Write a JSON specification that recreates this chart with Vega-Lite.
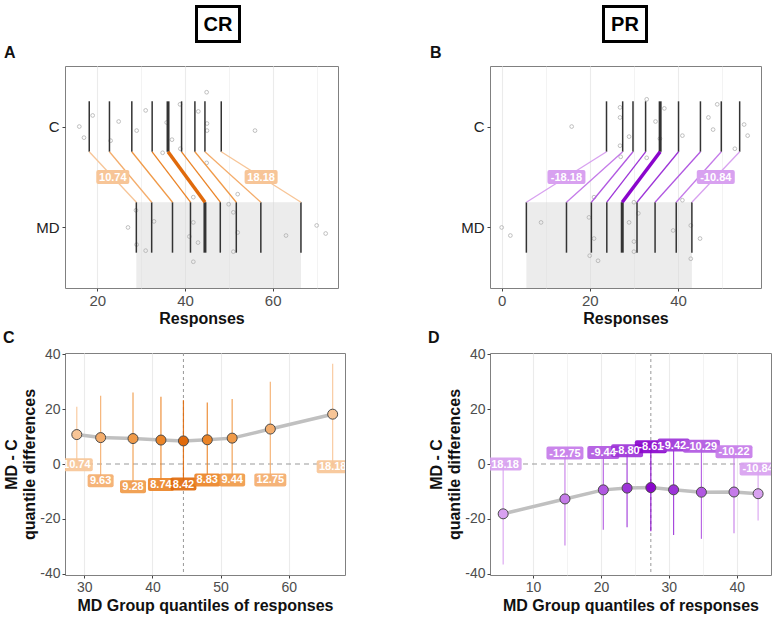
{
"$schema":"https://vega.github.io/schema/vega-lite/v6.json",
"background":"white",
"padding":{"left":2,"top":0,"right":0,"bottom":0},
"spacing":-4,
"config":{
 "font":"Liberation Sans",
 "view":{"stroke":"#808080","strokeWidth":1},
 "axis":{"domain":false,"labelOverlap":false,"gridColor":"#ebebeb","tickColor":"#444444","tickSize":3,"labelColor":"#4d4d4d","labelFontSize":14,"titleFontSize":16,"titleFontWeight":"bold","titleColor":"#111111","labelPadding":2,"titleFont":"Liberation Sans","labelFont":"Liberation Sans"},
 "title":{"fontSize":16,"fontWeight":"bold","color":"#111111","font":"Liberation Sans"}
},
"datasets":{
 "crq":[
  {"q":1,"MD":28.9,"C":18.16,"diff":10.74,"label":"10.74","lo":0.5,"hi":20.9,"ly":-0.3},
  {"q":2,"MD":32.4,"C":22.77,"diff":9.63,"label":"9.63","lo":-5,"hi":24.9,"ly":-6.1},
  {"q":3,"MD":37.15,"C":27.87,"diff":9.28,"label":"9.28","lo":-7,"hi":26.1,"ly":-8.3},
  {"q":4,"MD":41.25,"C":32.51,"diff":8.74,"label":"8.74","lo":-6,"hi":24.5,"ly":-7.5},
  {"q":5,"MD":44.55,"C":36.13,"diff":8.42,"label":"8.42","lo":-6,"hi":23.3,"ly":-7.3},
  {"q":6,"MD":48.05,"C":39.22,"diff":8.83,"label":"8.83","lo":-5,"hi":22.4,"ly":-5.8},
  {"q":7,"MD":51.7,"C":42.26,"diff":9.44,"label":"9.44","lo":-5,"hi":23.7,"ly":-5.8},
  {"q":8,"MD":57.3,"C":44.55,"diff":12.75,"label":"12.75","lo":-5,"hi":30.0,"ly":-5.8},
  {"q":9,"MD":66.45,"C":48.27,"diff":18.18,"label":"18.18","lo":-1,"hi":36.6,"ly":-1.0}
 ],
 "prq":[
  {"q":1,"MD":5.6,"C":23.78,"diff":-18.18,"label":"-18.18","lo":-36.7,"hi":0.5,"ly":0},
  {"q":2,"MD":14.7,"C":27.45,"diff":-12.75,"label":"-12.75","lo":-29.7,"hi":3,"ly":4.0},
  {"q":3,"MD":20.35,"C":29.79,"diff":-9.44,"label":"-9.44","lo":-24.0,"hi":3,"ly":4.2},
  {"q":4,"MD":23.85,"C":32.65,"diff":-8.8,"label":"-8.80","lo":-23.1,"hi":3.5,"ly":4.8},
  {"q":5,"MD":27.35,"C":35.95,"diff":-8.61,"label":"-8.61","lo":-24.5,"hi":5,"ly":6.3},
  {"q":6,"MD":30.7,"C":40.12,"diff":-9.42,"label":"-9.42","lo":-25.9,"hi":5,"ly":6.9},
  {"q":7,"MD":34.8,"C":45.09,"diff":-10.29,"label":"-10.29","lo":-27.3,"hi":5,"ly":6.5},
  {"q":8,"MD":39.6,"C":49.82,"diff":-10.22,"label":"-10.22","lo":-25.3,"hi":3,"ly":4.5},
  {"q":9,"MD":43.15,"C":53.99,"diff":-10.84,"label":"-10.84","lo":-20.6,"hi":-2,"ly":-1.8}
 ],
 "crraw":[
  {"grp":"C","x":15.89,"y":2.0},{"grp":"C","x":16.96,"y":1.89},{"grp":"C","x":18.94,"y":2.11},{"grp":"C","x":23.04,"y":1.86},{"grp":"C","x":24.87,"y":2.05},{"grp":"C","x":28.97,"y":1.96},{"grp":"C","x":31.03,"y":2.16},{"grp":"C","x":34.9,"y":1.74},{"grp":"C","x":35.82,"y":2.04},{"grp":"C","x":37.03,"y":1.87},{"grp":"C","x":38.86,"y":2.22},{"grp":"C","x":38.94,"y":1.78},{"grp":"C","x":43.04,"y":2.15},{"grp":"C","x":44.94,"y":2.34},{"grp":"C","x":45.02,"y":2.03},{"grp":"C","x":45.02,"y":1.96},{"grp":"C","x":44.94,"y":1.64},{"grp":"C","x":55.97,"y":1.96},
  {"grp":"MD","x":28.82,"y":1.17},{"grp":"MD","x":28.97,"y":0.83},{"grp":"MD","x":27.0,"y":1.0},{"grp":"MD","x":31.03,"y":0.77},{"grp":"MD","x":32.93,"y":1.06},{"grp":"MD","x":41.9,"y":1.3},{"grp":"MD","x":41.9,"y":1.05},{"grp":"MD","x":40.99,"y":0.91},{"grp":"MD","x":42.97,"y":0.85},{"grp":"MD","x":41.9,"y":0.66},{"grp":"MD","x":49.96,"y":1.23},{"grp":"MD","x":51.03,"y":1.15},{"grp":"MD","x":52.02,"y":1.33},{"grp":"MD","x":52.02,"y":0.95},{"grp":"MD","x":51.03,"y":0.76},{"grp":"MD","x":63.04,"y":0.92},{"grp":"MD","x":70.04,"y":1.02},{"grp":"MD","x":72.09,"y":0.94}
 ],
 "prraw":[
  {"grp":"C","x":15.88,"y":2.0},{"grp":"C","x":26.85,"y":2.19},{"grp":"C","x":26.85,"y":2.09},{"grp":"C","x":28.9,"y":1.9},{"grp":"C","x":26.85,"y":1.81},{"grp":"C","x":27.0,"y":1.7},{"grp":"C","x":32.9,"y":2.27},{"grp":"C","x":36.9,"y":2.18},{"grp":"C","x":34.9,"y":2.05},{"grp":"C","x":35.9,"y":1.88},{"grp":"C","x":32.9,"y":1.69},{"grp":"C","x":41.0,"y":1.91},{"grp":"C","x":46.9,"y":2.09},{"grp":"C","x":47.96,"y":1.97},{"grp":"C","x":48.9,"y":2.22},{"grp":"C","x":52.9,"y":1.78},{"grp":"C","x":55.0,"y":2.02},{"grp":"C","x":55.8,"y":1.91},
  {"grp":"MD","x":0.0,"y":1.0},{"grp":"MD","x":1.97,"y":0.92},{"grp":"MD","x":8.93,"y":1.05},{"grp":"MD","x":19.8,"y":1.1},{"grp":"MD","x":20.95,"y":0.89},{"grp":"MD","x":19.97,"y":0.72},{"grp":"MD","x":21.86,"y":0.67},{"grp":"MD","x":20.95,"y":1.3},{"grp":"MD","x":28.9,"y":1.05},{"grp":"MD","x":30.0,"y":1.25},{"grp":"MD","x":31.0,"y":1.14},{"grp":"MD","x":30.0,"y":0.86},{"grp":"MD","x":30.0,"y":0.76},{"grp":"MD","x":38.9,"y":0.97},{"grp":"MD","x":41.0,"y":1.27},{"grp":"MD","x":42.9,"y":1.02},{"grp":"MD","x":42.9,"y":0.69},{"grp":"MD","x":45.0,"y":0.89}
 ]
},
"vconcat":[
 {
  "width":600,"height":44,"view":{"stroke":null},
  "data":{"values":[{"grp":"CR"},{"grp":"PR"}]},
  "encoding":{"x":{"field":"grp","type":"nominal","scale":{"domain":["CR","PR"],"range":[153,560],"padding":0},"axis":null}},
  "layer":[
   {"mark":{"type":"point","shape":"M-21.5,-17.5H21.5V17.5H-21.5Z","size":4,"filled":false,"stroke":"black","strokeWidth":3,"opacity":1}},
   {"mark":{"type":"text","fontSize":20,"fontWeight":"bold","font":"Liberation Sans Narrow, Liberation Sans","baseline":"middle","dy":1,"color":"black"},"encoding":{"text":{"field":"grp"}}}
  ]
 },
 {
  "columns":2,
  "spacing":{"row":2,"column":81},
  "resolve":{"scale":{"color":"independent","fill":"independent","shape":"independent"}},
  "concat":[
   {
    "width":273,"height":222,
    "title":{"text":"A","anchor":"start","frame":"group","dx":-61,"offset":-8,"baseline":"alphabetic"},
    "layer":[
     {"data":{"name":"crq"},
      "transform":[{"aggregate":[{"op":"min","field":"MD","as":"lo"},{"op":"max","field":"MD","as":"hi"}]}],
      "mark":{"type":"rect","color":"#d9d9d9","opacity":0.5},
      "encoding":{
       "x":{"field":"lo","type":"quantitative","scale":{"domain":[12.63,74.9],"nice":false,"zero":false},
            "axis":{"title":"Responses","values":[20,30,40,50,60,70],"labelExpr":"datum.value % 20 === 0 ? datum.label : ''","tickOpacity":{"condition":{"test":"datum.value % 20 === 0","value":1},"value":0},"gridWidth":{"condition":{"test":"datum.value % 20 === 0","value":1.1},"value":0.6},"labelFontSize":15,"titlePadding":2}},
       "x2":{"field":"hi"},
       "y":{"datum":1.25,"type":"quantitative","scale":{"domain":[0.4,2.6],"nice":false,"zero":false},
            "axis":{"title":null,"values":[1,2],"labelExpr":"datum.value === 2 ? 'C' : 'MD'","labelFontSize":15,"labelColor":"#222222","gridWidth":1.1,"labelPadding":3}},
       "y2":{"datum":0.4}}},
     {"data":{"name":"crraw"},"mark":{"type":"point","filled":false,"size":14,"strokeWidth":0.8,"color":"#b0b0b0","opacity":1},
      "encoding":{"x":{"field":"x","type":"quantitative"},"y":{"field":"y","type":"quantitative"}}},
     {"data":{"name":"crq"},"mark":{"type":"rule","color":"#333333"},
      "encoding":{"x":{"field":"C","type":"quantitative"},"y":{"datum":1.75},"y2":{"datum":2.25},"strokeWidth":{"condition":{"test":"datum.q === 5","value":3},"value":1.5}}},
     {"data":{"name":"crq"},"mark":{"type":"rule","color":"#333333"},
      "encoding":{"x":{"field":"MD","type":"quantitative"},"y":{"datum":0.75},"y2":{"datum":1.25},"strokeWidth":{"condition":{"test":"datum.q === 5","value":3},"value":1.5}}},
     {"data":{"name":"crq"},"mark":{"type":"rule"},
      "encoding":{"x":{"field":"C","type":"quantitative"},"x2":{"field":"MD"},"y":{"datum":1.75},"y2":{"datum":1.25},
       "color":{"field":"q","type":"ordinal","scale":{"domain":[1,2,3,4,5,6,7,8,9],"range":["#f7c597","#f4ad6c","#f09a48","#eb8427","#e06a0c","#eb8427","#f09a48","#f4ad6c","#f7c597"]},"legend":null},
       "strokeWidth":{"condition":{"test":"datum.q === 5","value":3.5},"value":1.3}}},
     {"data":{"name":"crq"},
      "transform":[{"filter":"datum.q === 1 || datum.q === 9"},{"calculate":"(datum.C + datum.MD) / 2","as":"mid"},{"calculate":"length(datum.label)","as":"len"}],
      "mark":{"type":"point","filled":true,"size":4,"opacity":1,"strokeWidth":0},
      "encoding":{"x":{"field":"mid","type":"quantitative"},"y":{"datum":1.5},
       "fill":{"field":"q","type":"ordinal","scale":{"domain":[1,2,3,4,5,6,7,8,9],"range":["#f7c597","#f4ad6c","#f09a48","#eb8427","#e06a0c","#eb8427","#f09a48","#f4ad6c","#f7c597"]},"legend":null},
       "shape":{"field":"len","type":"nominal","scale":{"domain":[4,5,6],"range":["M-11,-7H11Q13,-7 13,-5V5Q13,7 11,7H-11Q-13,7 -13,5V-5Q-13,-7 -11,-7Z","M-14.5,-7H14.5Q16.5,-7 16.5,-5V5Q16.5,7 14.5,7H-14.5Q-16.5,7 -16.5,5V-5Q-16.5,-7 -14.5,-7Z","M-17,-7H17Q19,-7 19,-5V5Q19,7 17,7H-17Q-19,7 -19,5V-5Q-19,-7 -17,-7Z"]},"legend":null}}},
     {"data":{"name":"crq"},
      "transform":[{"filter":"datum.q === 1 || datum.q === 9"},{"calculate":"(datum.C + datum.MD) / 2","as":"mid"}],
      "mark":{"type":"text","color":"white","fontSize":11,"fontWeight":"bold","baseline":"middle","dy":0.5},
      "encoding":{"x":{"field":"mid","type":"quantitative"},"y":{"datum":1.5},"text":{"field":"label"}}}
    ]
   },
   {
    "width":271,"height":222,
    "title":{"text":"B","anchor":"start","frame":"group","dx":-60,"offset":-8,"baseline":"alphabetic"},
    "layer":[
     {"data":{"name":"prq"},
      "transform":[{"aggregate":[{"op":"min","field":"MD","as":"lo"},{"op":"max","field":"MD","as":"hi"}]}],
      "mark":{"type":"rect","color":"#d9d9d9","opacity":0.5},
      "encoding":{
       "x":{"field":"lo","type":"quantitative","scale":{"domain":[-2.65,58.83],"nice":false,"zero":false},
            "axis":{"title":"Responses","values":[0,10,20,30,40,50],"labelExpr":"datum.value % 20 === 0 ? datum.label : ''","tickOpacity":{"condition":{"test":"datum.value % 20 === 0","value":1},"value":0},"gridWidth":{"condition":{"test":"datum.value % 20 === 0","value":1.1},"value":0.6},"labelFontSize":15,"titlePadding":2}},
       "x2":{"field":"hi"},
       "y":{"datum":1.25,"type":"quantitative","scale":{"domain":[0.4,2.6],"nice":false,"zero":false},
            "axis":{"title":null,"values":[1,2],"labelExpr":"datum.value === 2 ? 'C' : 'MD'","labelFontSize":15,"labelColor":"#222222","gridWidth":1.1,"labelPadding":3}},
       "y2":{"datum":0.4}}},
     {"data":{"name":"prraw"},"mark":{"type":"point","filled":false,"size":14,"strokeWidth":0.8,"color":"#b0b0b0","opacity":1},
      "encoding":{"x":{"field":"x","type":"quantitative"},"y":{"field":"y","type":"quantitative"}}},
     {"data":{"name":"prq"},"mark":{"type":"rule","color":"#333333"},
      "encoding":{"x":{"field":"C","type":"quantitative"},"y":{"datum":1.75},"y2":{"datum":2.25},"strokeWidth":{"condition":{"test":"datum.q === 5","value":3},"value":1.5}}},
     {"data":{"name":"prq"},"mark":{"type":"rule","color":"#333333"},
      "encoding":{"x":{"field":"MD","type":"quantitative"},"y":{"datum":0.75},"y2":{"datum":1.25},"strokeWidth":{"condition":{"test":"datum.q === 5","value":3},"value":1.5}}},
     {"data":{"name":"prq"},"mark":{"type":"rule"},
      "encoding":{"x":{"field":"C","type":"quantitative"},"x2":{"field":"MD"},"y":{"datum":1.75},"y2":{"datum":1.25},
       "color":{"field":"q","type":"ordinal","scale":{"domain":[1,2,3,4,5,6,7,8,9],"range":["#d8a1f0","#c57be9","#b158e1","#9d34d8","#8a05cc","#9d34d8","#b158e1","#c57be9","#d8a1f0"]},"legend":null},
       "strokeWidth":{"condition":{"test":"datum.q === 5","value":3.5},"value":1.3}}},
     {"data":{"name":"prq"},
      "transform":[{"filter":"datum.q === 1 || datum.q === 9"},{"calculate":"(datum.C + datum.MD) / 2","as":"mid"},{"calculate":"length(datum.label)","as":"len"}],
      "mark":{"type":"point","filled":true,"size":4,"opacity":1,"strokeWidth":0},
      "encoding":{"x":{"field":"mid","type":"quantitative"},"y":{"datum":1.5},
       "fill":{"field":"q","type":"ordinal","scale":{"domain":[1,2,3,4,5,6,7,8,9],"range":["#d8a1f0","#c57be9","#b158e1","#9d34d8","#8a05cc","#9d34d8","#b158e1","#c57be9","#d8a1f0"]},"legend":null},
       "shape":{"field":"len","type":"nominal","scale":{"domain":[4,5,6],"range":["M-11,-7H11Q13,-7 13,-5V5Q13,7 11,7H-11Q-13,7 -13,5V-5Q-13,-7 -11,-7Z","M-14.5,-7H14.5Q16.5,-7 16.5,-5V5Q16.5,7 14.5,7H-14.5Q-16.5,7 -16.5,5V-5Q-16.5,-7 -14.5,-7Z","M-17,-7H17Q19,-7 19,-5V5Q19,7 17,7H-17Q-19,7 -19,5V-5Q-19,-7 -17,-7Z"]},"legend":null}}},
     {"data":{"name":"prq"},
      "transform":[{"filter":"datum.q === 1 || datum.q === 9"},{"calculate":"(datum.C + datum.MD) / 2","as":"mid"}],
      "mark":{"type":"text","color":"white","fontSize":11,"fontWeight":"bold","baseline":"middle","dy":0.5},
      "encoding":{"x":{"field":"mid","type":"quantitative"},"y":{"datum":1.5},"text":{"field":"label"}}}
    ]
   },
   {
    "width":280,"height":222,
    "title":{"text":"C","anchor":"start","frame":"group","dx":-62,"offset":-12,"baseline":"alphabetic"},
    "layer":[
     {"data":{"name":"crq"},"transform":[{"filter":"datum.q === 5"}],
      "mark":{"type":"rule","color":"#999999","strokeDash":[5,4],"strokeWidth":1},
      "encoding":{"y":{"datum":0,"type":"quantitative","scale":{"domain":[-40.5,40.5],"nice":false,"zero":false},
        "axis":{"title":["MD - C","quantile differences"],"titleLineHeight":18,"titlePadding":2,"values":[-40,-30,-20,-10,0,10,20,30,40],"labelExpr":"datum.value % 20 === 0 ? '' + datum.value : ''","tickOpacity":{"condition":{"test":"datum.value % 20 === 0","value":1},"value":0},"gridWidth":{"condition":{"test":"datum.value % 20 === 0","value":1.1},"value":0.6}}}}},
     {"data":{"name":"crq"},"transform":[{"filter":"datum.q === 5"}],
      "mark":{"type":"rule","color":"#999999","strokeDash":[3,3],"strokeWidth":1},
      "encoding":{"x":{"field":"MD","type":"quantitative","scale":{"domain":[27.17,68.26],"nice":false,"zero":false},
        "axis":{"title":"MD Group quantiles of responses","titlePadding":3,"values":[30,35,40,45,50,55,60,65],"labelExpr":"datum.value % 10 === 0 ? datum.label : ''","tickOpacity":{"condition":{"test":"datum.value % 10 === 0","value":1},"value":0},"gridWidth":{"condition":{"test":"datum.value % 10 === 0","value":1.1},"value":0.6}}}}},
     {"data":{"name":"crq"},"mark":{"type":"rule","strokeWidth":1.2,"opacity":0.9},
      "encoding":{"x":{"field":"MD","type":"quantitative"},"y":{"field":"lo","type":"quantitative"},"y2":{"field":"hi"},
       "color":{"field":"q","type":"ordinal","scale":{"domain":[1,2,3,4,5,6,7,8,9],"range":["#f7c597","#f4ad6c","#f09a48","#eb8427","#e06a0c","#eb8427","#f09a48","#f4ad6c","#f7c597"]},"legend":null}}},
     {"data":{"name":"crq"},"mark":{"type":"line","color":"#c0c0c0","strokeWidth":3.5},
      "encoding":{"x":{"field":"MD","type":"quantitative"},"y":{"field":"diff","type":"quantitative"}}},
     {"data":{"name":"crq"},"mark":{"type":"point","filled":true,"size":100,"stroke":"#4a4a4a","strokeWidth":1,"opacity":1},
      "encoding":{"x":{"field":"MD","type":"quantitative"},"y":{"field":"diff","type":"quantitative"},
       "fill":{"field":"q","type":"ordinal","scale":{"domain":[1,2,3,4,5,6,7,8,9],"range":["#f7c597","#f4ad6c","#f09a48","#eb8427","#e06a0c","#eb8427","#f09a48","#f4ad6c","#f7c597"]},"legend":null}}},
     {"data":{"name":"crq"},"transform":[{"calculate":"length(datum.label)","as":"len"}],
      "mark":{"type":"point","filled":true,"size":4,"opacity":0.92,"strokeWidth":0,"clip":true},
      "encoding":{"x":{"field":"MD","type":"quantitative"},"y":{"field":"ly","type":"quantitative"},
       "fill":{"field":"q","type":"ordinal","scale":{"domain":[1,2,3,4,5,6,7,8,9],"range":["#f7c597","#f4ad6c","#f09a48","#eb8427","#e06a0c","#eb8427","#f09a48","#f4ad6c","#f7c597"]},"legend":null},
       "shape":{"field":"len","type":"nominal","scale":{"domain":[4,5,6],"range":["M-11,-6.5H11Q13,-6.5 13,-4.5V4.5Q13,6.5 11,6.5H-11Q-13,6.5 -13,4.5V-4.5Q-13,-6.5 -11,-6.5Z","M-14,-6.5H14Q16,-6.5 16,-4.5V4.5Q16,6.5 14,6.5H-14Q-16,6.5 -16,4.5V-4.5Q-16,-6.5 -14,-6.5Z","M-16.5,-6.5H16.5Q18.5,-6.5 18.5,-4.5V4.5Q18.5,6.5 16.5,6.5H-16.5Q-18.5,6.5 -18.5,4.5V-4.5Q-18.5,-6.5 -16.5,-6.5Z"]},"legend":null}}},
     {"data":{"name":"crq"},
      "mark":{"type":"text","color":"white","fontSize":11,"fontWeight":"bold","baseline":"middle","dy":0.5,"clip":true},
      "encoding":{"x":{"field":"MD","type":"quantitative"},"y":{"field":"ly","type":"quantitative"},"text":{"field":"label"}}}
    ]
   },
   {
    "width":281,"height":222,
    "title":{"text":"D","anchor":"start","frame":"group","dx":-62,"offset":-12,"baseline":"alphabetic"},
    "layer":[
     {"data":{"name":"prq"},"transform":[{"filter":"datum.q === 5"}],
      "mark":{"type":"rule","color":"#999999","strokeDash":[3,3],"strokeWidth":1},
      "encoding":{"x":{"field":"MD","type":"quantitative","scale":{"domain":[3.66,45.05],"nice":false,"zero":false},
        "axis":{"title":"MD Group quantiles of responses","titlePadding":3,"values":[10,15,20,25,30,35,40],"labelExpr":"datum.value % 10 === 0 ? datum.label : ''","tickOpacity":{"condition":{"test":"datum.value % 10 === 0","value":1},"value":0},"gridWidth":{"condition":{"test":"datum.value % 10 === 0","value":1.1},"value":0.6}}}}},
     {"data":{"name":"prq"},"transform":[{"filter":"datum.q === 5"}],
      "mark":{"type":"rule","color":"#999999","strokeDash":[5,4],"strokeWidth":1},
      "encoding":{"y":{"datum":0,"type":"quantitative","scale":{"domain":[-40.5,40.5],"nice":false,"zero":false},
        "axis":{"title":["MD - C","quantile differences"],"titleLineHeight":18,"titlePadding":2,"values":[-40,-30,-20,-10,0,10,20,30,40],"labelExpr":"datum.value % 20 === 0 ? '' + datum.value : ''","tickOpacity":{"condition":{"test":"datum.value % 20 === 0","value":1},"value":0},"gridWidth":{"condition":{"test":"datum.value % 20 === 0","value":1.1},"value":0.6}}}}},
     {"data":{"name":"prq"},"mark":{"type":"rule","strokeWidth":1.2,"opacity":0.9},
      "encoding":{"x":{"field":"MD","type":"quantitative"},"y":{"field":"lo","type":"quantitative"},"y2":{"field":"hi"},
       "color":{"field":"q","type":"ordinal","scale":{"domain":[1,2,3,4,5,6,7,8,9],"range":["#d8a1f0","#c57be9","#b158e1","#9d34d8","#8a05cc","#9d34d8","#b158e1","#c57be9","#d8a1f0"]},"legend":null}}},
     {"data":{"name":"prq"},"mark":{"type":"line","color":"#c0c0c0","strokeWidth":3.5},
      "encoding":{"x":{"field":"MD","type":"quantitative"},"y":{"field":"diff","type":"quantitative"}}},
     {"data":{"name":"prq"},"mark":{"type":"point","filled":true,"size":100,"stroke":"#4a4a4a","strokeWidth":1,"opacity":1},
      "encoding":{"x":{"field":"MD","type":"quantitative"},"y":{"field":"diff","type":"quantitative"},
       "fill":{"field":"q","type":"ordinal","scale":{"domain":[1,2,3,4,5,6,7,8,9],"range":["#d8a1f0","#c57be9","#b158e1","#9d34d8","#8a05cc","#9d34d8","#b158e1","#c57be9","#d8a1f0"]},"legend":null}}},
     {"data":{"name":"prq"},"transform":[{"calculate":"length(datum.label)","as":"len"}],
      "mark":{"type":"point","filled":true,"size":4,"opacity":0.92,"strokeWidth":0,"clip":true},
      "encoding":{"x":{"field":"MD","type":"quantitative"},"y":{"field":"ly","type":"quantitative"},
       "fill":{"field":"q","type":"ordinal","scale":{"domain":[1,2,3,4,5,6,7,8,9],"range":["#d8a1f0","#c57be9","#b158e1","#9d34d8","#8a05cc","#9d34d8","#b158e1","#c57be9","#d8a1f0"]},"legend":null},
       "shape":{"field":"len","type":"nominal","scale":{"domain":[4,5,6],"range":["M-11,-6.5H11Q13,-6.5 13,-4.5V4.5Q13,6.5 11,6.5H-11Q-13,6.5 -13,4.5V-4.5Q-13,-6.5 -11,-6.5Z","M-14,-6.5H14Q16,-6.5 16,-4.5V4.5Q16,6.5 14,6.5H-14Q-16,6.5 -16,4.5V-4.5Q-16,-6.5 -14,-6.5Z","M-16.5,-6.5H16.5Q18.5,-6.5 18.5,-4.5V4.5Q18.5,6.5 16.5,6.5H-16.5Q-18.5,6.5 -18.5,4.5V-4.5Q-18.5,-6.5 -16.5,-6.5Z"]},"legend":null}}},
     {"data":{"name":"prq"},
      "mark":{"type":"text","color":"white","fontSize":11,"fontWeight":"bold","baseline":"middle","dy":0.5,"clip":true},
      "encoding":{"x":{"field":"MD","type":"quantitative"},"y":{"field":"ly","type":"quantitative"},"text":{"field":"label"}}}
    ]
   }
  ]
 }
]
}
